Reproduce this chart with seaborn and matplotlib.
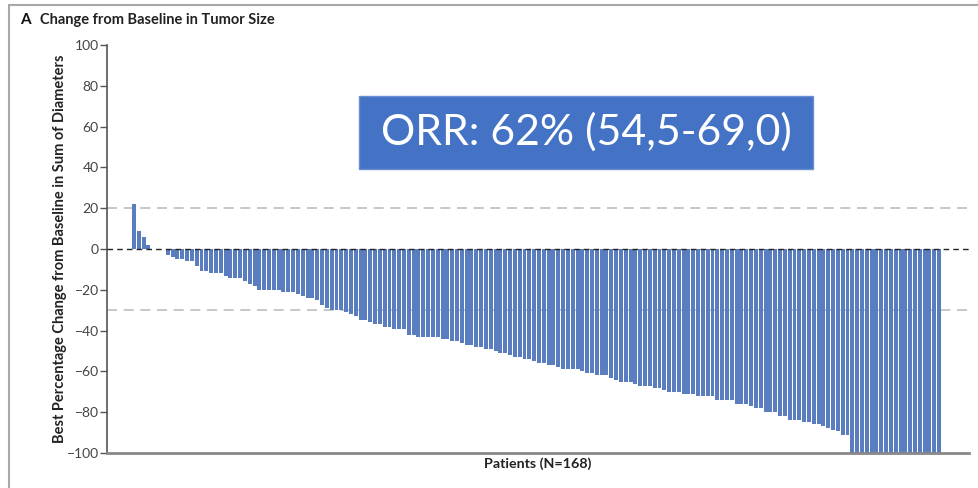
import matplotlib
matplotlib.use("Agg")
import matplotlib.pyplot as plt
from matplotlib.lines import Line2D
from matplotlib.patches import Rectangle
import numpy as np
import pandas as pd
import seaborn as sns

# Best percentage change from baseline, one value per patient, sorted
best_change = [
    22, 9, 6, 2, 0, 0, 0,
    -3, -4, -5, -5, -6, -6, -8.5, -11, -11, -12,
    -12, -12, -13, -14, -14, -14, -15.5, -17, -18, -20,
    -20, -20, -20, -20, -21, -21, -21, -22, -23, -24,
    -24, -25, -27.5, -29, -30, -30, -30, -31, -32, -33,
    -35, -35, -36, -37, -37, -38, -38, -39, -39, -39,
    -42, -42, -43, -43, -43, -43, -43, -44, -44, -45,
    -45, -46, -47, -47, -48, -48, -49, -49, -50, -51,
    -51, -52, -53, -53, -54, -54, -55, -56, -56, -57,
    -57, -58, -59, -59, -59, -59, -60, -61, -61, -62,
    -62, -62, -63, -64, -65, -65, -65, -66, -67, -67,
    -67, -68, -68, -69, -70, -70, -70, -71, -71, -71,
    -72, -72, -72, -72, -74, -74, -74, -74, -76, -76,
    -76, -77, -78, -78, -80, -80, -80, -82, -82, -84,
    -84, -84, -85, -85, -86, -86, -87, -87.5, -88.5, -89,
    -91, -91,
] + [-100] * 19
patients = list(range(1, len(best_change) + 1))

y_ticks = [100, 80, 60, 40, 20, 0, -20, -40, -60, -80, -100]
reference_levels = [20, -30]

title_letter = "A"
title_text = "Change from Baseline in Tumor Size"
y_label = "Best Percentage Change from Baseline in Sum of Diameters"
x_label = f"Patients (N={len(best_change)})"
orr_text = "ORR: 62% (54,5-69,0)"

df = pd.DataFrame({"patient": patients, "change": best_change})

sns.set_style("white")
plt.rcParams["font.family"] = ["Lato", "DejaVu Sans"]

fig = plt.figure(figsize=(9.79, 4.88), dpi=100)
ax = fig.add_axes([107 / 979, 1 - 453 / 488, (969 - 107) / 979, (453 - 45) / 488])

sns.barplot(data=df, x="patient", y="change", color="#5a7dc0", saturation=1,
            width=0.82, ax=ax, linewidth=0, errorbar=None)

ax.set_ylim(-100, 100)
ax.set_xlim(-5.6, len(best_change) - 1 + 6.2)

# Baseline and response thresholds
ax.axhline(0, color="#222222", lw=1.0, ls=(0, (4, 3)), zorder=3)
for lvl in reference_levels:
    ax.axhline(lvl, color="#bdbdbd", lw=1.2, ls=(0, (6, 4)), zorder=0.5)

ax.set_yticks(y_ticks)
ax.set_yticklabels([str(t).replace("-", "\u2212") for t in y_ticks])
ax.set_xticks([])
ax.tick_params(axis="y", direction="out", length=5, width=1.0, color="#555555",
               labelsize=10, labelcolor="#444444", pad=1, left=True)

for side in ["top", "right"]:
    ax.spines[side].set_visible(False)
ax.spines["left"].set_color("#555555")
ax.spines["left"].set_linewidth(1.2)
ax.spines["bottom"].set_color("#888888")
ax.spines["bottom"].set_linewidth(2.0)

ax.set_ylabel(y_label, fontsize=10.5, fontweight="bold", color="#222222", labelpad=0)
ax.set_xlabel(x_label, fontsize=10.3, fontweight="bold", color="#222222", labelpad=3)

# Panel heading
fig.text(20 / 979, 1 - 20 / 488, title_letter, fontsize=11, fontweight="bold",
         color="#111111", va="center", ha="left")
fig.text(40 / 979, 1 - 20 / 488, title_text, fontsize=10.5, fontweight="bold",
         color="#222222", va="center", ha="left")

# Panel frame (top and left edges)
fig.add_artist(Line2D([9 / 979, 978 / 979], [1 - 5 / 488, 1 - 5 / 488],
                      transform=fig.transFigure, color="#a8a8a8", lw=1.5))
fig.add_artist(Line2D([9 / 979, 9 / 979], [0, 1 - 5 / 488],
                      transform=fig.transFigure, color="#a8a8a8", lw=1.5))

# Objective response rate callout
box_x0, box_y0, box_x1, box_y1 = 359, 96, 813, 169
fig.add_artist(Rectangle((box_x0 / 979, 1 - box_y1 / 488),
                         (box_x1 - box_x0) / 979, (box_y1 - box_y0) / 488,
                         transform=fig.transFigure, facecolor="#4472c4",
                         edgecolor="#6a8fd0", lw=1, zorder=5))
fig.text((box_x0 + box_x1) / 2 / 979, 1 - (box_y0 + box_y1) / 2 / 488, orr_text,
         fontsize=30.8, color="white", ha="center", va="center", zorder=6)

fig.savefig("out.png", dpi=100)
